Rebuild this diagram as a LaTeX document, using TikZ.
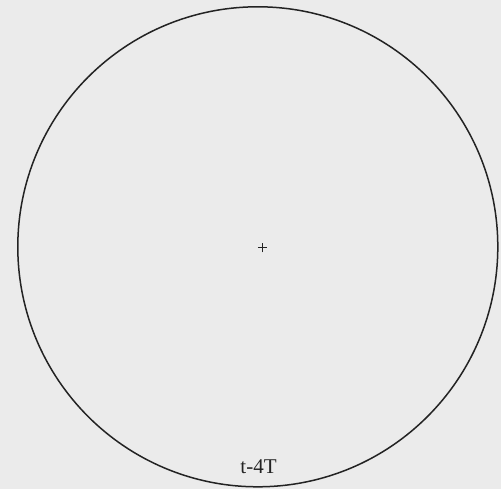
\documentclass[tikz,border=0pt]{standalone}
\usepackage{fontspec}
\setmainfont{Liberation Serif}
\usepackage{xcolor}
\usetikzlibrary{positioning}
\definecolor{cback}{RGB}{235,235,235}
\definecolor{cline}{RGB}{35,35,35}

\begin{document}
\begin{tikzpicture}[x=1pt, y=-1pt,
  orbit/.style={draw=cline, line width=1.5pt, circle, minimum size=480pt, inner sep=0pt},
  cross/.style={draw=cline, line width=1.3pt},
  tag/.style={font=\fontsize{21}{23}\selectfont, text=cline, inner sep=0pt}]
\fill[cback] (0,0) rectangle (501,489);
\useasboundingbox (0,0) rectangle (501,489);
\node[orbit] (ring) at (257.8,246.8) {};
\coordinate (ctr) at (262.3,247.8);
\draw[cross] ([xshift=-4.5pt]ctr) -- ([xshift=4.5pt]ctr);
\draw[cross] ([yshift=-4.5pt]ctr) -- ([yshift=4.5pt]ctr);
\node[tag, anchor=base] (lbl) at (258.5,473) {t-4T};
\end{tikzpicture}
\end{document}
